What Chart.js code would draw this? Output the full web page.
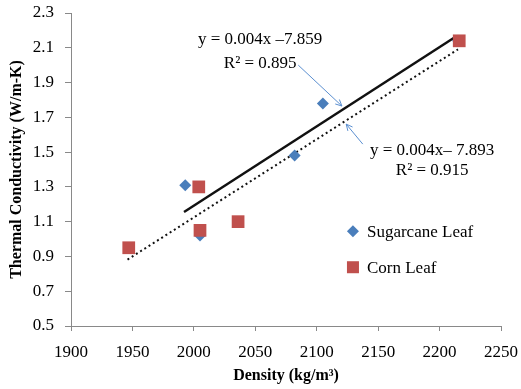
<!DOCTYPE html>
<html>
<head>
<meta charset="utf-8">
<script src="https://cdn.jsdelivr.net/npm/chart.js@4.4.1/dist/chart.umd.min.js"></script>
<style>
  html, body { margin: 0; padding: 0; background: #fff; }
  #wrap { width: 521px; height: 389px; }
</style>
</head>
<body>
<div id="wrap"><canvas id="chart" width="521" height="389"></canvas></div>
<script>
const sugarDensity = [1993, 2005, 2082, 2105, 2215];
const sugarK = [1.31, 1.02, 1.48, 1.78, 2.14];
const cornDensity = [1947, 2004, 2005, 2036, 2216];
const cornK = [0.95, 1.30, 1.05, 1.10, 2.14];

// trendline end points as drawn in the figure
const sugarFitX = [1992, 2214];
const sugarFitY = [1.156, 2.168];
const cornFitX = [1946, 2215];
const cornFitY = [0.882, 2.091];

const seriesNames = ['Sugarcane Leaf', 'Corn Leaf'];
const fitLabels = [
  { lines: ['y = 0.004x \u20137.859', 'R\u00b2 = 0.895'], x: 2054, y: [2.145, 2.012] },
  { lines: ['y = 0.004x\u2013 7.893', 'R\u00b2 = 0.915'], x: 2194, y: [1.511, 1.396] }
];
const arrows = [
  { from: [2085, 2.0], to: [2120.5, 1.765] },
  { from: [2137.5, 1.546], to: [2124, 1.661] }
];

const blue = '#4a7ebb';
const red = '#c0504d';
const axisGray = '#898989';
const serif = '"Liberation Serif", "Times New Roman", serif';

const toPoints = (xs, ys) => xs.map((x, i) => ({ x, y: ys[i] }));

const overlay = {
  id: 'overlay',
  afterDatasetsDraw(chart) {
    const { ctx, scales: { x, y } } = chart;
    ctx.save();
    ctx.fillStyle = '#000';
    ctx.font = '17px ' + serif;
    ctx.textAlign = 'center';
    ctx.textBaseline = 'middle';
    fitLabels.forEach(f => {
      f.lines.forEach((t, i) => ctx.fillText(t, x.getPixelForValue(f.x), y.getPixelForValue(f.y[i])));
    });

    ctx.strokeStyle = '#5b8fd0';
    ctx.lineWidth = 1;
    arrows.forEach(a => {
      const x1 = x.getPixelForValue(a.from[0]), y1 = y.getPixelForValue(a.from[1]);
      const x2 = x.getPixelForValue(a.to[0]), y2 = y.getPixelForValue(a.to[1]);
      const ang = Math.atan2(y2 - y1, x2 - x1);
      ctx.beginPath();
      ctx.moveTo(x1, y1);
      ctx.lineTo(x2, y2);
      ctx.moveTo(x2 - 7 * Math.cos(ang - 0.45), y2 - 7 * Math.sin(ang - 0.45));
      ctx.lineTo(x2, y2);
      ctx.lineTo(x2 - 7 * Math.cos(ang + 0.45), y2 - 7 * Math.sin(ang + 0.45));
      ctx.stroke();
    });

    // legend inside the plot
    const lx = x.getPixelForValue(2129.5);
    const ly = [y.getPixelForValue(1.045), y.getPixelForValue(0.838)];
    ctx.fillStyle = blue;
    ctx.beginPath();
    ctx.moveTo(lx, ly[0] - 6);
    ctx.lineTo(lx + 6, ly[0]);
    ctx.lineTo(lx, ly[0] + 6);
    ctx.lineTo(lx - 6, ly[0]);
    ctx.closePath();
    ctx.fill();
    ctx.fillStyle = red;
    ctx.fillRect(lx - 6, ly[1] - 6, 12, 12);
    ctx.fillStyle = '#000';
    ctx.textAlign = 'left';
    ctx.fillText(seriesNames[0], lx + 14, ly[0] + 1);
    ctx.fillText(seriesNames[1], lx + 14, ly[1] + 1);
    ctx.restore();
  }
};

new Chart(document.getElementById('chart'), {
  type: 'scatter',
  data: {
    datasets: [
      {
        label: seriesNames[1],
        data: toPoints(cornDensity, cornK),
        pointStyle: 'rect',
        radius: 9,
        backgroundColor: red,
        borderWidth: 0,
        order: 1
      },
      {
        label: seriesNames[0],
        data: toPoints(sugarDensity, sugarK),
        pointStyle: 'rectRot',
        radius: 6,
        backgroundColor: blue,
        borderWidth: 0,
        order: 2
      },
      {
        label: 'fit sugarcane',
        type: 'line',
        data: toPoints(sugarFitX, sugarFitY),
        borderColor: '#111',
        borderWidth: 2.5,
        pointRadius: 0,
        fill: false,
        order: 3
      },
      {
        label: 'fit corn',
        type: 'line',
        data: toPoints(cornFitX, cornFitY),
        borderColor: '#111',
        borderWidth: 2,
        borderDash: [2, 3],
        pointRadius: 0,
        fill: false,
        order: 4
      }
    ]
  },
  options: {
    responsive: false,
    animation: false,
    layout: { padding: { top: 13, right: 20, left: 0, bottom: 0 } },
    plugins: { legend: { display: false }, tooltip: { enabled: false } },
    scales: {
      x: {
        type: 'linear',
        min: 1900,
        max: 2250,
        afterFit: s => { s.height = 63; s.paddingLeft = 0; s.paddingRight = 0; },
        ticks: { stepSize: 50, color: '#000', font: { family: serif, size: 17 }, padding: 11, callback: v => String(v) },
        grid: { display: true, drawOnChartArea: false, drawTicks: true, tickLength: 5, color: axisGray },
        border: { color: axisGray },
        title: { display: true, text: 'Density (kg/m\u00b3)', color: '#000', font: { family: serif, size: 16, weight: 'bold' }, padding: { top: 0 } }
      },
      y: {
        min: 0.5,
        max: 2.3,
        afterFit: s => { s.width = 71; s.paddingTop = 0; s.paddingBottom = 0; },
        ticks: { stepSize: 0.2, color: '#000', font: { family: serif, size: 17 }, padding: 11, callback: v => v.toFixed(1) },
        grid: { display: true, drawOnChartArea: false, drawTicks: true, tickLength: 6, color: axisGray },
        border: { color: axisGray },
        title: { display: true, text: 'Thermal Conductivity (W/m-K)', color: '#000', font: { family: serif, size: 16, weight: 'bold' }, padding: { top: 7, bottom: 0 } }
      }
    }
  },
  plugins: [overlay]
});
</script>
</body>
</html>
